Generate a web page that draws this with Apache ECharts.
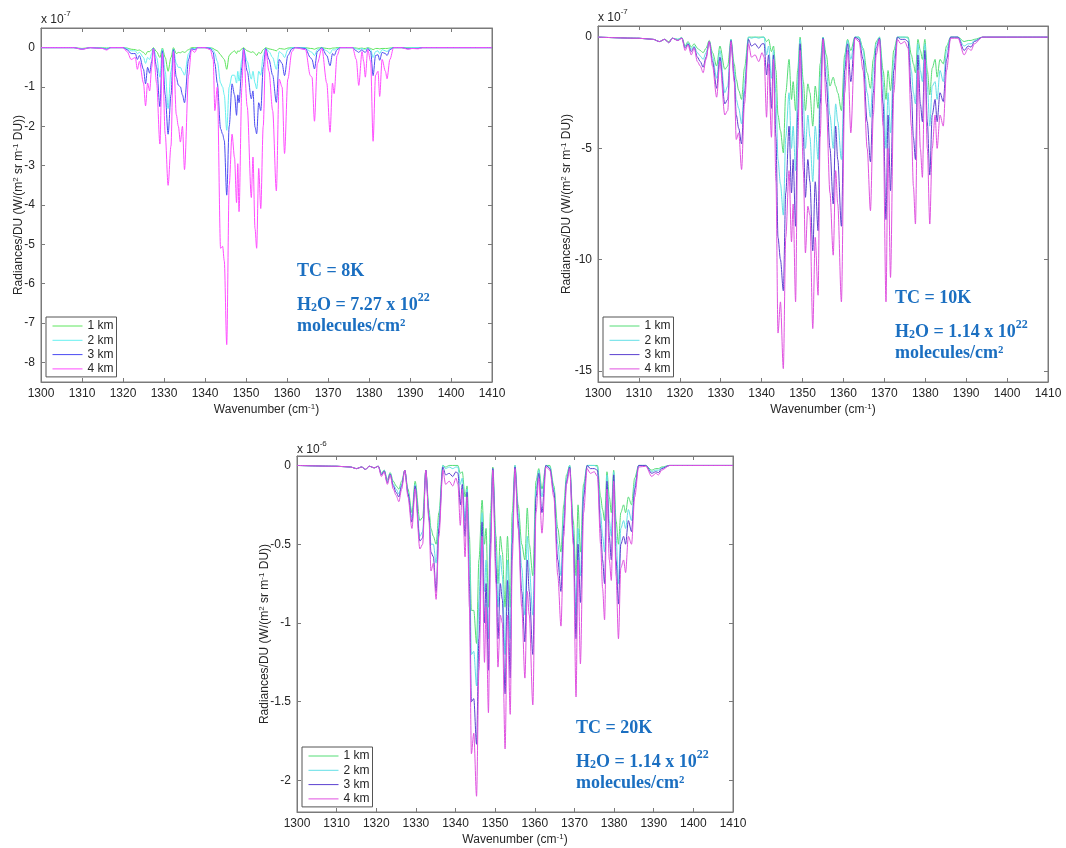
<!DOCTYPE html>
<html>
<head>
<meta charset="utf-8">
<script src="https://cdn.jsdelivr.net/npm/echarts@6/dist/echarts.min.js"></script>
<style>html,body{margin:0;padding:0;background:#fff}#c{width:1066px;height:848px}</style>
</head>
<body>
<div id="c"></div>
<script>
// ---------- DATA ----------
const xTicks = [1300,1310,1320,1330,1340,1350,1360,1370,1380,1390,1400,1410];
const yTicksA = [-8,-7,-6,-5,-4,-3,-2,-1,0];          // x 1e-7  (TC = 8K)
const yTicksB = [-15,-10,-5,0];                       // x 1e-7  (TC = 10K)
const yTicksC = [-2,-1.5,-1,-0.5,0];                  // x 1e-6  (TC = 20K)
const seriesNames = ['1 km','2 km','3 km','4 km'];

// Panel TC = 8K (units 1e-7)
const wnA = [1300,1308,1310,1312,1315,1316,1317,1320,1321,1322,
 1323,1323.5,1324,1325,1325.5,1326,1326.5,1327,1327.4,1328.2,
 1329,1329.6,1330.3,1331,1331.7,1332.3,1333,1333.5,1334,1334.5,
 1335,1336,1336.7,1337.5,1338.2,1340,1341.3,1342,1342.4,1343,
 1343.8,1344.3,1344.7,1345.3,1345.9,1346.6,1347.2,1347.7,1348,1348.3,
 1349,1349.4,1350.3,1351.3,1351.7,1352.2,1352.6,1353.1,1353.6,1354.2,
 1354.8,1355.6,1356.5,1357.4,1358.1,1358.8,1359.4,1360.2,1361.2,1362,
 1364.5,1365.7,1366.1,1366.7,1367.4,1368.5,1369.7,1370.5,1371.1,1371.5,
 1372.2,1373,1376,1376.9,1377.5,1378.3,1378.7,1379.1,1379.7,1380.4,
 1381,1381.6,1382.2,1382.6,1383.2,1384,1384.4,1385.1,1386,1388,
 1389.5,1390.5,1392,1393,1410];
const tc8_4km = [0,0,-0.04,0,-0.02,-0.06,0,0,-0.1,-0.3,
 -0.25,-0.55,-0.35,-0.9,-1.48,-0.9,-1.1,-0.5,-0.03,-0.9,
 -2.45,-0.15,-2.2,-3.5,-2.5,-0.1,-1.7,-2.0,-2.4,-2.0,
 -3.1,-0.7,-0.05,-0.12,0,0,-0.05,-0.3,-1.6,-1.0,
 -5.1,-5.05,-5.42,-7.55,-3.5,-2.2,-2.8,-3.94,-2.95,-4.17,
 -1.0,-0.05,-1.5,-3.81,-2.78,-4.6,-5.1,-3.07,-4.09,-2.0,
 -0.05,-0.6,-1.6,-3.64,-0.8,-1.0,-2.69,-0.8,-0.1,0,
 -0.05,-0.71,-0.75,-1.87,-0.4,-0.02,-0.9,-2.15,-0.9,-1.17,
 -0.2,0,0,-0.3,-0.96,-0.1,-0.35,-0.75,-0.05,-0.35,
 -2.38,-0.7,-0.6,-1.24,-0.3,-0.6,-0.79,-0.3,0,0,
 -0.04,-0.02,-0.03,0,0];
const tc8_3km = [0,0,-0.04,0,-0.02,-0.04,0,0,-0.05,-0.15,
 -0.15,-0.3,-0.2,-0.55,-0.92,-0.5,-0.65,-0.35,-0.02,-0.5,
 -1.5,-0.08,-1.2,-2.2,-1.2,-0.05,-0.75,-0.95,-1.0,-1.2,
 -1.4,-0.3,-0.03,-0.05,0,0,-0.02,-0.12,-0.4,-0.9,
 -2.06,-2.2,-2.36,-3.75,-2.0,-0.92,-1.2,-1.72,-1.2,-1.4,
 -0.5,-0.02,-0.6,-1.3,-1.1,-2.02,-2.19,-1.4,-1.6,-0.5,
 -0.02,-0.3,-0.7,-1.39,-0.3,-0.4,-0.71,-0.2,-0.03,0,
 -0.02,-0.25,-0.3,-0.54,-0.1,0,-0.2,-0.46,-0.15,-0.2,
 -0.05,0,0,-0.08,-0.12,-0.05,-0.1,-0.12,-0.02,-0.1,
 -0.71,-0.2,-0.18,-0.32,-0.12,-0.15,-0.2,-0.05,0,0,
 -0.03,-0.02,-0.02,0,0];
const tc8_2km = [0,0,-0.03,0,-0.01,-0.02,0,0,-0.02,-0.08,
 -0.08,-0.15,-0.12,-0.25,-0.4,-0.25,-0.3,-0.15,-0.01,-0.25,
 -0.75,-0.03,-0.6,-1.55,-0.6,-0.03,-0.4,-0.5,-0.5,-0.6,
 -0.7,-0.15,-0.02,-0.02,0,0,0,-0.05,-0.15,-0.35,
 -0.9,-1.0,-1.2,-2.1,-1.0,-0.7,-0.7,-0.9,-0.6,-0.85,
 -0.3,-0.02,-0.35,-0.8,-0.6,-0.9,-1.05,-0.6,-0.7,-0.2,
 -0.01,-0.1,-0.25,-0.55,-0.1,-0.15,-0.25,-0.05,0,0,
 0,-0.1,-0.12,-0.2,-0.05,0,-0.08,-0.15,-0.05,-0.06,
 -0.02,0,0,-0.03,-0.05,-0.02,-0.04,-0.05,-0.01,-0.05,
 -0.25,-0.1,-0.08,-0.15,-0.05,-0.08,-0.1,-0.03,0,0,
 -0.01,0,0,0,0];
const tc8_1km = [0,0,-0.02,0,0,-0.01,0,0,-0.01,-0.04,
 -0.05,-0.07,-0.06,-0.12,-0.18,-0.1,-0.1,-0.05,0,-0.1,
 -0.25,-0.01,-0.25,-0.6,-0.25,0,-0.15,-0.12,-0.13,-0.1,
 -0.12,-0.05,0,0,0,0,0,-0.02,-0.05,-0.08,
 -0.18,-0.25,-0.3,-0.55,-0.2,-0.12,-0.08,-0.15,-0.08,-0.1,
 -0.03,0,-0.08,-0.12,-0.1,-0.15,-0.2,-0.12,-0.15,-0.05,
 0,-0.03,-0.05,-0.08,-0.02,-0.03,-0.04,-0.01,0,0,
 0,-0.02,-0.02,-0.04,-0.01,0,-0.02,-0.03,-0.01,-0.01,
 0,0,0,-0.01,-0.02,-0.01,-0.02,-0.02,0,-0.02,
 -0.05,-0.02,-0.02,-0.03,-0.02,-0.02,-0.02,-0.01,0,0,
 0,0,0,0,0];

// Panels TC = 10K (units 1e-7) and TC = 20K (units 1e-6)
const wnB = [1300,1310,1313.5,1315,1316.3,1317.3,1318.2,1319.5,1320.5,1321.3,
 1322,1322.8,1323.5,1324.3,1325,1325.7,1326.4,1327.2,1328,1329,
 1329.8,1331,1331.7,1332.5,1333.3,1333.8,1334.4,1335.1,1335.8,1336.8,
 1337.5,1338.4,1339.3,1340.1,1340.6,1341.2,1341.7,1342.4,1342.9,1343.5,
 1344,1344.6,1345.3,1345.9,1346.7,1347.3,1347.7,1348.3,1348.8,1349.4,
 1350.2,1350.7,1351.3,1351.8,1352.5,1353.1,1353.8,1354.3,1355,1355.8,
 1356.7,1357.5,1358.1,1358.6,1359.5,1360.3,1361,1361.8,1362.8,1363.8,
 1364.8,1365.8,1366.6,1367.3,1368,1368.8,1369.7,1370.4,1370.9,1371.5,
 1372.3,1373.2,1374,1375,1375.8,1376.6,1377.1,1377.6,1378.2,1378.8,
 1379.3,1379.9,1380.5,1381.1,1381.7,1382.4,1382.9,1383.6,1384.4,1385.2,
 1386.2,1388,1389.5,1390.5,1391.2,1392,1394,1410];
const tc10_4km = [0,-0.05,-0.1,-0.2,-0.1,-0.25,-0.05,-0.15,-0.05,-0.6,
 -0.35,-0.8,-0.5,-1.1,-1.3,-1.6,-1.0,-0.2,-1.3,-2.7,
 -1.1,-3.5,-3.3,-0.2,-2.0,-4.6,-4.3,-5.95,-3.0,-0.3,
 -0.9,-0.8,-1.1,-0.7,-0.9,-3.6,-1.2,-4.5,-1.0,-6.5,
 -13.3,-11.9,-14.9,-9.0,-6.0,-9.2,-7.5,-11.9,-5.0,-0.6,
 -6.0,-9.7,-7.6,-8.0,-13.1,-9.0,-11.6,-4.5,-0.1,-3.0,
 -7.0,-9.8,-6.0,-7.5,-11.9,-2.5,-0.6,-4.3,-0.05,-0.2,
 -1.5,-5.0,-7.8,-3.5,-0.8,-0.1,-4.0,-11.9,-5.0,-10.8,
 -2.5,-0.1,-0.3,-0.2,-0.5,-4.0,-6.7,-8.4,-1.5,-5.0,
 -6.3,-1.0,-5.0,-8.4,-5.0,-3.5,-5.0,-3.5,-4.0,-1.5,
 -0.05,-0.05,-0.8,-0.5,-0.6,-0.3,0,0];
const tc10_3km = [0,-0.05,-0.1,-0.2,-0.1,-0.25,-0.05,-0.15,-0.05,-0.5,
 -0.3,-0.65,-0.45,-0.9,-1.1,-1.35,-0.9,-0.2,-1.1,-2.3,
 -0.9,-3.0,-2.8,-0.15,-1.8,-3.5,-4.1,-4.8,-2.5,-0.1,
 -0.4,-0.3,-0.5,-0.3,-0.3,-1.7,-0.8,-3.2,-0.8,-4.5,
 -9.0,-10.0,-11.4,-7.0,-4.0,-7.0,-5.5,-8.5,-3.5,-0.3,
 -4.5,-7.2,-5.5,-6.5,-9.6,-6.5,-8.7,-3.0,-0.05,-2.0,
 -5.0,-7.5,-4.0,-5.5,-8.5,-1.5,-0.3,-2.0,0,-0.1,
 -1.0,-3.8,-5.6,-2.5,-0.5,-0.05,-3.0,-8.2,-3.5,-6.9,
 -1.5,0,-0.1,-0.1,-0.2,-2.5,-4.5,-5.5,-0.8,-3.0,
 -3.8,-0.6,-3.8,-6.2,-3.5,-2.8,-3.8,-2.5,-2.9,-1.0,
 0,0,-0.6,-0.4,-0.45,-0.2,0,0];
const tc10_2km = [0,-0.05,-0.1,-0.2,-0.1,-0.25,-0.05,-0.1,-0.03,-0.45,
 -0.25,-0.55,-0.4,-0.7,-0.85,-1.0,-0.7,-0.2,-0.9,-1.85,
 -0.6,-2.5,-2.2,-0.1,-1.5,-2.8,-3.2,-3.9,-2.0,0,
 -0.05,0,-0.05,0,0,-0.8,-0.4,-1.85,-0.6,-2.5,
 -5.5,-6.6,-8.0,-4.5,-2.5,-5.0,-4.0,-6.0,-2.0,-0.1,
 -3.0,-5.0,-3.5,-4.5,-6.5,-4.0,-5.5,-1.8,0,-1.3,
 -3.5,-5.0,-3.0,-3.8,-5.5,-1.0,-0.15,-1.0,0,0,
 -0.6,-2.5,-3.6,-1.5,-0.3,0,-2.0,-5.0,-2.5,-4.3,
 -1.0,0,0,0,-0.05,-1.5,-2.5,-3.0,-0.3,-1.5,
 -2.0,-0.3,-2.2,-4.0,-2.2,-2.0,-2.8,-1.5,-2.0,-0.6,
 0,0,-0.4,-0.3,-0.3,-0.15,0,0];
const tc10_1km = [0,-0.05,-0.1,-0.2,-0.1,-0.2,-0.05,-0.1,-0.02,-0.4,
 -0.2,-0.45,-0.3,-0.5,-0.6,-0.7,-0.5,-0.15,-0.7,-1.3,
 -0.4,-1.45,-1.3,-0.1,-1.2,-1.9,-2.4,-2.8,-1.4,0,
 0,0,0,0,0,-0.2,-0.1,-0.65,-0.4,-1.5,
 -3.5,-4.2,-5.2,-2.5,-1.0,-2.8,-2.0,-3.3,-1.5,0,
 -2.0,-3.3,-2.1,-2.5,-4.0,-2.2,-3.2,-1.2,0,-0.8,
 -2.2,-1.8,-2.2,-2.5,-3.3,-0.8,-0.1,-0.6,0,0,
 -0.5,-1.6,-2.3,-1.0,-0.2,0,-1.5,-2.8,-1.5,-2.4,
 -0.6,0,0,0,0,-0.8,-1.2,-1.6,-0.1,-0.6,
 -1.0,-0.1,-1.5,-2.6,-1.4,-1.0,-1.8,-1.0,-1.2,-0.4,
 0,0,-0.2,-0.15,-0.15,-0.1,0,0];
const tc20_4km = [0,-0.005,-0.01,-0.02,-0.01,-0.025,-0.005,-0.015,-0.005,-0.07,
 -0.04,-0.12,-0.06,-0.15,-0.19,-0.23,-0.15,-0.03,-0.2,-0.4,
 -0.15,-0.53,-0.5,-0.03,-0.35,-0.67,-0.62,-0.85,-0.45,-0.03,
 -0.12,-0.1,-0.13,-0.08,-0.12,-0.38,-0.15,-0.58,-0.2,-0.9,
 -1.83,-1.7,-2.1,-1.3,-0.45,-1.25,-0.9,-1.57,-0.6,-0.03,
 -0.75,-1.28,-0.95,-1.0,-1.8,-0.95,-1.58,-0.6,-0.02,-0.4,
 -0.9,-1.35,-0.8,-0.95,-1.52,-0.3,-0.08,-0.43,-0.01,-0.03,
 -0.2,-0.7,-1.02,-0.45,-0.12,-0.02,-0.5,-1.47,-0.6,-1.26,
 -0.3,-0.02,-0.05,-0.04,-0.07,-0.5,-0.78,-0.98,-0.15,-0.6,
 -0.73,-0.1,-0.7,-1.1,-0.65,-0.6,-0.68,-0.45,-0.5,-0.2,
 -0.01,-0.005,-0.07,-0.05,-0.06,-0.03,0,0];
const tc20_3km = [0,-0.005,-0.01,-0.02,-0.01,-0.025,-0.005,-0.015,-0.005,-0.06,
 -0.035,-0.11,-0.055,-0.13,-0.17,-0.2,-0.13,-0.03,-0.18,-0.36,
 -0.13,-0.48,-0.46,-0.03,-0.33,-0.55,-0.58,-0.8,-0.4,-0.01,
 -0.06,-0.05,-0.07,-0.04,-0.05,-0.25,-0.12,-0.45,-0.17,-0.75,
 -1.5,-1.48,-1.77,-1.1,-0.36,-1.0,-0.75,-1.3,-0.5,-0.02,
 -0.65,-1.1,-0.75,-0.85,-1.45,-0.73,-1.35,-0.5,-0.01,-0.35,
 -0.8,-1.12,-0.6,-0.8,-1.2,-0.2,-0.05,-0.3,0,-0.02,
 -0.17,-0.6,-0.8,-0.38,-0.1,-0.01,-0.45,-1.1,-0.5,-0.87,
 -0.2,0,-0.02,-0.02,-0.03,-0.4,-0.6,-0.75,-0.1,-0.45,
 -0.6,-0.06,-0.6,-0.88,-0.5,-0.45,-0.5,-0.35,-0.42,-0.15,
 0,0,-0.05,-0.04,-0.045,-0.02,0,0];
const tc20_2km = [0,-0.005,-0.01,-0.02,-0.01,-0.025,-0.005,-0.015,-0.005,-0.055,
 -0.03,-0.1,-0.05,-0.12,-0.15,-0.18,-0.12,-0.03,-0.17,-0.33,
 -0.12,-0.45,-0.42,-0.03,-0.3,-0.5,-0.5,-0.62,-0.35,0,
 -0.02,-0.01,-0.02,-0.01,-0.01,-0.12,-0.08,-0.35,-0.15,-0.55,
 -1.2,-1.18,-1.4,-0.85,-0.3,-0.8,-0.6,-1.1,-0.4,-0.02,
 -0.55,-0.9,-0.57,-0.7,-1.2,-0.6,-1.1,-0.4,0,-0.3,
 -0.65,-0.95,-0.45,-0.65,-0.95,-0.15,-0.03,-0.2,0,-0.01,
 -0.15,-0.5,-0.7,-0.3,-0.08,0,-0.4,-0.95,-0.4,-0.7,
 -0.15,0,0,0,-0.01,-0.3,-0.45,-0.55,-0.06,-0.35,
 -0.45,-0.04,-0.45,-0.75,-0.4,-0.35,-0.4,-0.28,-0.35,-0.12,
 0,0,-0.04,-0.03,-0.03,-0.015,0,0];
const tc20_1km = [0,-0.005,-0.01,-0.02,-0.01,-0.025,-0.005,-0.015,-0.005,-0.05,
 -0.03,-0.09,-0.045,-0.1,-0.13,-0.15,-0.1,-0.03,-0.15,-0.3,
 -0.1,-0.35,-0.33,-0.03,-0.28,-0.4,-0.45,-0.5,-0.3,0,
 -0.01,0,0,0,0,-0.05,-0.04,-0.2,-0.13,-0.45,
 -0.92,-0.92,-1.13,-0.6,-0.22,-0.5,-0.4,-0.9,-0.3,-0.01,
 -0.45,-0.75,-0.45,-0.55,-0.9,-0.45,-0.9,-0.3,0,-0.25,
 -0.5,-0.6,-0.27,-0.5,-0.7,-0.1,-0.02,-0.15,0,0,
 -0.13,-0.4,-0.55,-0.25,-0.06,0,-0.35,-0.7,-0.25,-0.55,
 -0.12,0,0,0,0,-0.2,-0.28,-0.35,-0.04,-0.2,
 -0.3,-0.03,-0.35,-0.5,-0.3,-0.25,-0.3,-0.2,-0.25,-0.08,
 0,0,-0.03,-0.02,-0.02,-0.01,0,0];

// ---------- STYLE / LAYOUT ----------
const SANS = '"Liberation Sans", Arial, sans-serif';
const SERIF = '"Liberation Serif", "Times New Roman", serif';
const AX = '#7a7a7a', TXT = '#262626', BLUE = '#1b6fc1';
const colorsA = ['#5ee65e','#66f0f0','#4b4bf2','#ff4dff'];
const colorsB = ['#55dd77','#62dfe6','#5b40d0','#e052e0'];

const panels = [
  {grid:{left:41, top:28, width:451, height:354}, min:-8.5, max:0.5, ticks:yTicksA, wn:wnA,
   ys:[tc8_1km,tc8_2km,tc8_3km,tc8_4km], colors:colorsA, exp:'-7', expPos:[41,10], yGap:15,
   legend:{left:46, top:317}, tc:'TC = 8K', h2o:'7.27', ann:[297,262]},
  {grid:{left:598, top:26, width:450, height:356}, min:-15.5, max:0.5, ticks:yTicksB, wn:wnB,
   ys:[tc10_1km,tc10_2km,tc10_3km,tc10_4km], colors:colorsB, exp:'-7', expPos:[598,8], yGap:24,
   legend:{left:603, top:317}, tc:'TC = 10K', h2o:'1.14', ann:[895,289]},
  {grid:{left:297, top:456, width:436, height:356}, min:-2.2, max:0.06, ticks:yTicksC, wn:wnB,
   ys:[tc20_1km,tc20_2km,tc20_3km,tc20_4km], colors:colorsB, exp:'-6', expPos:[297,440], yGap:25,
   legend:{left:302, top:747}, tc:'TC = 20K', h2o:'1.14', ann:[576,719]}
];

const supRich = {s:{fontSize:8, lineHeight:8, verticalAlign:'top', fontFamily:SANS, color:TXT}};
const grids=[], xAxes=[], yAxes=[], series=[], legends=[], graphics=[];
panels.forEach((p, k) => {
  grids.push(Object.assign({show:true, borderColor:AX, borderWidth:1, backgroundColor:'#fff', containLabel:false}, p.grid));
  const common = {type:'value', gridIndex:k, min:1300, max:1410, interval:10,
    axisLine:{show:true, onZero:false, lineStyle:{color:AX}},
    axisTick:{inside:true, length:4, lineStyle:{color:AX}}, splitLine:{show:false}};
  xAxes.push(Object.assign({}, common, {position:'bottom',
    axisLabel:{fontSize:12, color:TXT, fontFamily:SANS, margin:6, formatter:v => String(v)},
    name:'Wavenumber (cm{s|-1})', nameLocation:'middle', nameGap:21, nameMoveOverlap:false,
    nameTextStyle:{fontSize:12, color:TXT, fontFamily:SANS, lineHeight:14, rich:supRich}}));
  xAxes.push(Object.assign({}, common, {position:'top', axisLabel:{show:false}}));
  const ycommon = {type:'value', gridIndex:k, min:p.min, max:p.max,
    axisLine:{show:true, onZero:false, lineStyle:{color:AX}},
    axisTick:{inside:true, length:4, customValues:p.ticks, lineStyle:{color:AX}}, splitLine:{show:false}};
  yAxes.push(Object.assign({}, ycommon, {position:'left',
    axisLabel:{fontSize:12, color:TXT, fontFamily:SANS, margin:6, customValues:p.ticks, formatter:v => String(v)},
    name:'Radiances/DU (W/(m{s|2} sr m{s|-1} DU))', nameLocation:'middle', nameGap:p.yGap, nameMoveOverlap:false,
    nameTextStyle:{fontSize:12, color:TXT, fontFamily:SANS, lineHeight:14, rich:supRich}}));
  yAxes.push(Object.assign({}, ycommon, {position:'right', axisLabel:{show:false}}));
  p.ys.forEach((vals, i) => {
    if (vals.length !== p.wn.length) console.error('length mismatch', k, i, vals.length, p.wn.length);
    series.push({type:'line', name:seriesNames[i], xAxisIndex:2*k, yAxisIndex:2*k,
      data:p.wn.map((x, j) => [x, vals[j]]), symbol:'none', silent:true, z:2+i,
      smooth:0.3, smoothMonotone:'x',
      lineStyle:{width:1, color:p.colors[i]}, itemStyle:{color:p.colors[i]}});
  });
  legends.push({orient:'vertical', left:p.legend.left, top:p.legend.top, selectedMode:false,
    backgroundColor:'#fff', borderColor:'#555', borderWidth:1, padding:[2,3,1,6],
    itemWidth:30, itemHeight:14, itemGap:0.3,
    itemStyle:{opacity:0, borderWidth:0},
    textStyle:{fontSize:12, color:TXT, fontFamily:SANS, lineHeight:14},
    data:seriesNames.map((n, i) => ({name:n, lineStyle:{color:p.colors[i], width:1, opacity:1}, itemStyle:{opacity:0, borderWidth:0}}))});
  graphics.push({type:'text', left:p.expPos[0], top:p.expPos[1], z:10, style:{
    text:'{n|x 10}{e|' + p.exp + '}',
    rich:{n:{fontSize:12, lineHeight:16, verticalAlign:'bottom', fontFamily:SANS, fill:TXT},
          e:{fontSize:8, lineHeight:8, verticalAlign:'top', fontFamily:SANS, fill:TXT}}}});
  const big = {fontSize:18, fontWeight:'bold', fontFamily:SERIF, fill:BLUE, lineHeight:22, verticalAlign:'bottom'};
  graphics.push({type:'text', left:p.ann[0], top:p.ann[1], z:10, style:{text:p.tc, font:'bold 18px ' + SERIF, fill:BLUE}});
  graphics.push({type:'text', left:p.ann[0], top:p.ann[1] + 30, z:10, style:{
    text:'{b|H}{sub|2}{b|O = ' + p.h2o + ' x 10}{sup|22}',
    rich:{b:big,
      sub:{fontSize:12, fontWeight:'bold', fontFamily:SERIF, fill:BLUE, lineHeight:12, verticalAlign:'bottom'},
      sup:{fontSize:12, fontWeight:'bold', fontFamily:SERIF, fill:BLUE, lineHeight:12, verticalAlign:'top'}}}});
  graphics.push({type:'text', left:p.ann[0], top:p.ann[1] + 55, z:10, style:{text:'molecules/cm²', font:'bold 18px ' + SERIF, fill:BLUE}});
});

const chart = echarts.init(document.getElementById('c'), null, {renderer:'canvas'});
chart.setOption({
  backgroundColor:'#fff', animation:false,
  grid:grids, xAxis:xAxes, yAxis:yAxes, series:series, legend:legends, graphic:graphics
});
</script>
</body>
</html>
